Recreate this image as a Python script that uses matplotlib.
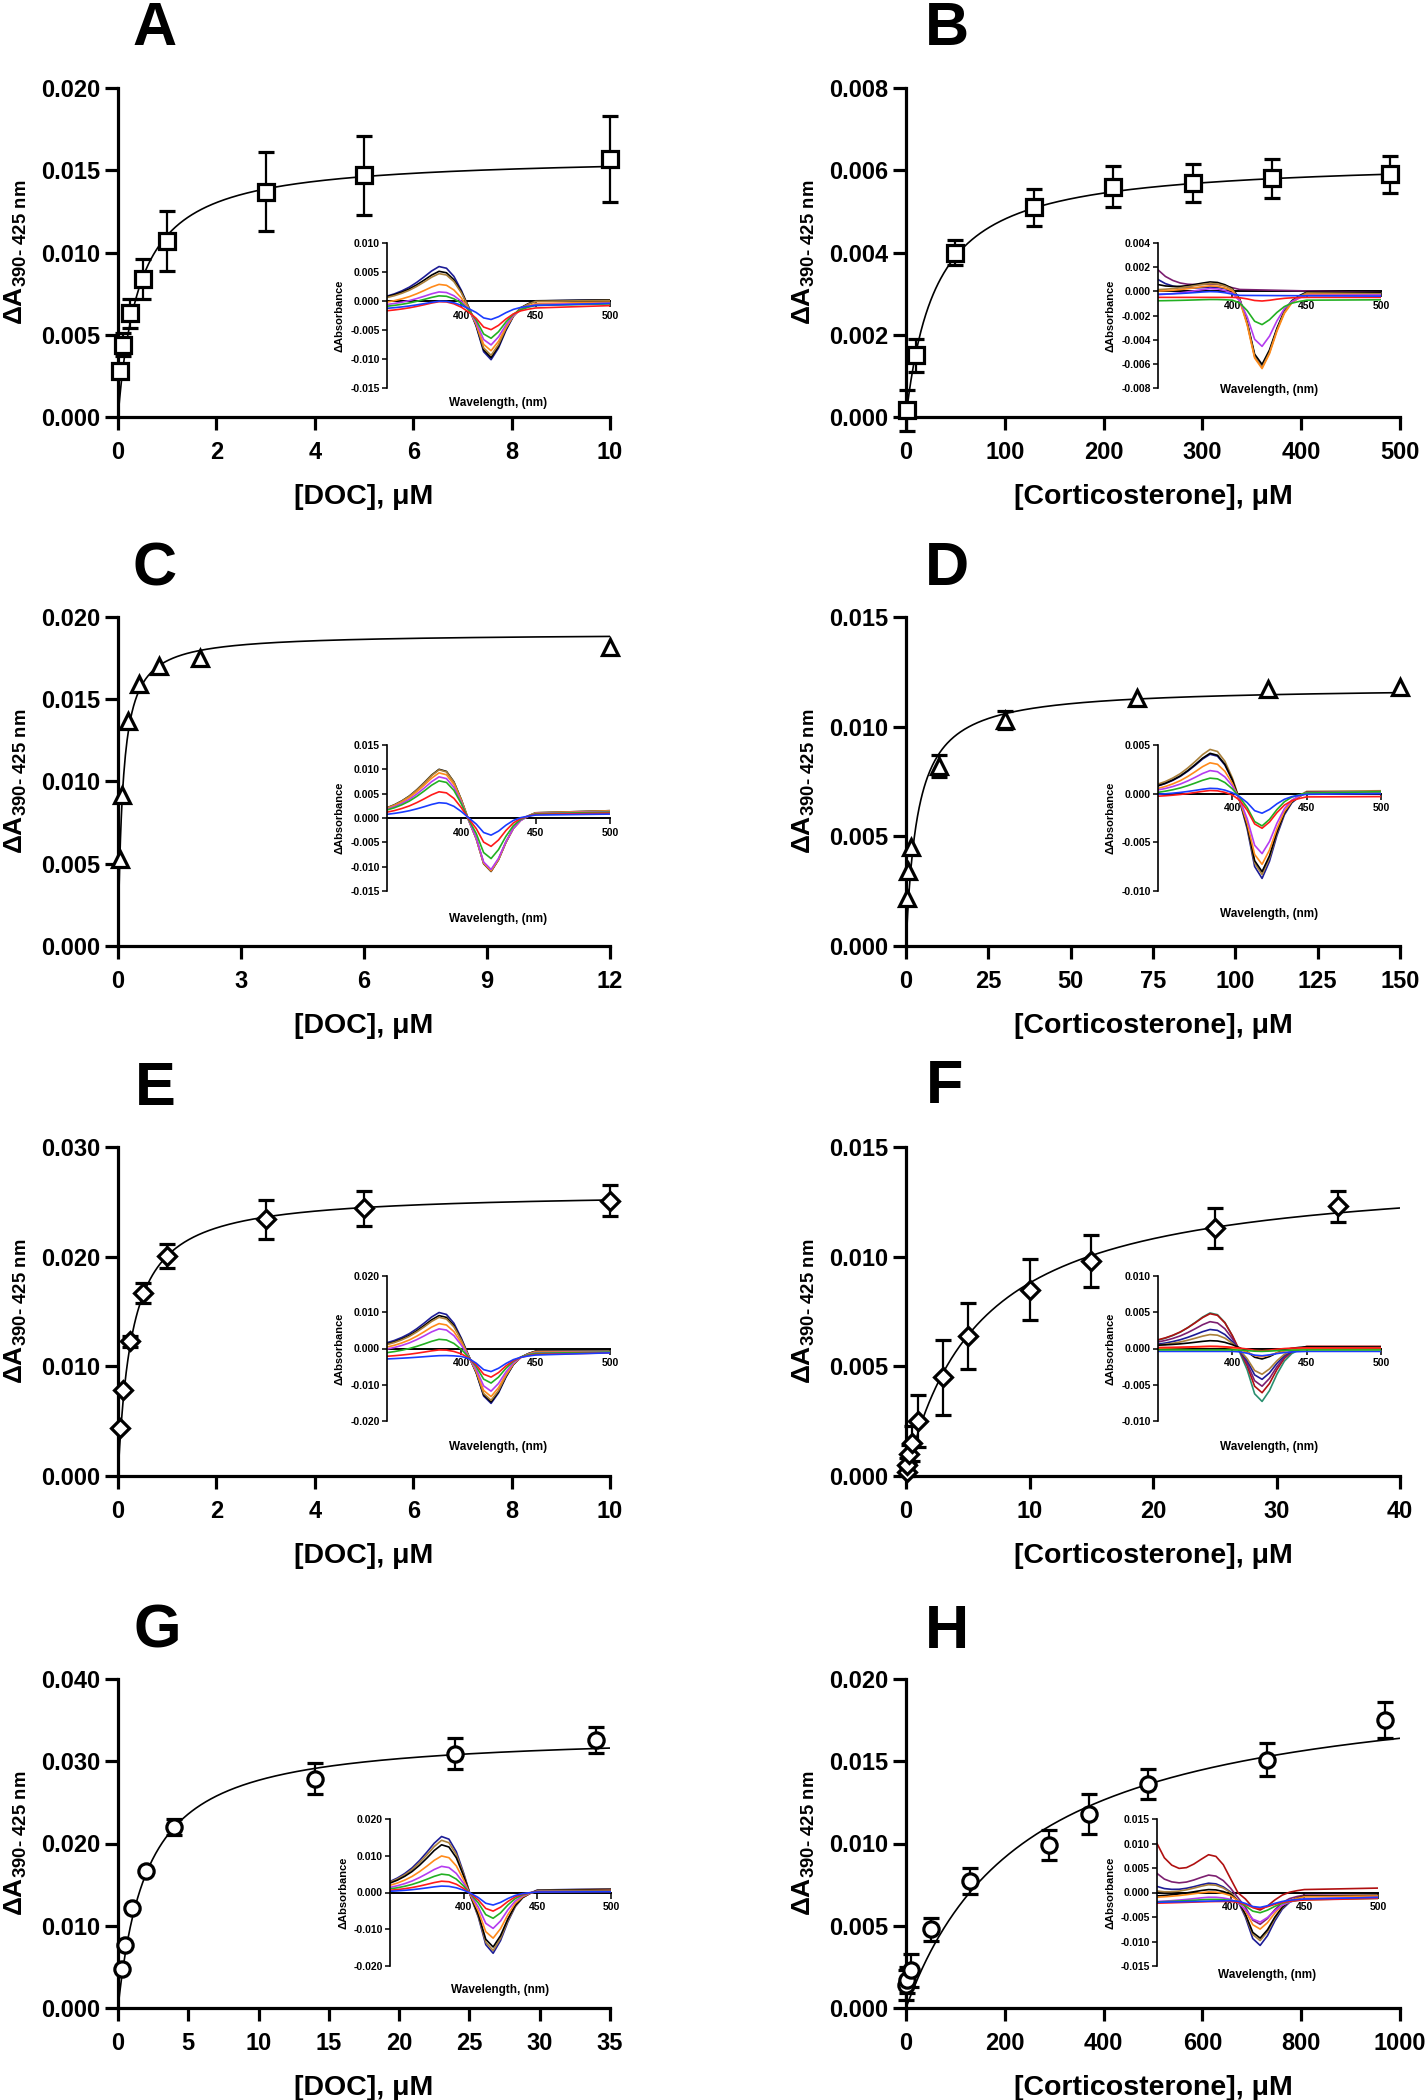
import numpy as np
import matplotlib
matplotlib.use('Agg')
import matplotlib.pyplot as plt

plt.rcParams['font.family'] = ['Liberation Sans', 'DejaVu Sans']
plt.rcParams['font.weight'] = 'bold'
plt.rcParams['axes.unicode_minus'] = False
plt.rcParams['mathtext.fontset'] = 'custom'
plt.rcParams['mathtext.rm'] = 'Liberation Sans'
plt.rcParams['mathtext.bf'] = 'Liberation Sans:bold'
plt.rcParams['mathtext.it'] = 'Liberation Sans:italic'

# ---------------- titration data ----------------
A_x = [0.05, 0.1, 0.25, 0.5, 1, 3, 5, 10]
A_y = [0.0028, 0.0044, 0.0063, 0.0084, 0.0107, 0.0137, 0.0147, 0.0157]
A_err = [0.0003, 0.0007, 0.0009, 0.0012, 0.0018, 0.0024, 0.0024, 0.0026]
A_fit = [0.0159, 0.44]          # Bmax, Kd

B_x = [1, 10, 50, 130, 210, 290, 370, 490]
B_y = [0.00016, 0.0015, 0.0040, 0.0051, 0.0056, 0.0057, 0.0058, 0.0059]
B_err = [0.0005, 0.0004, 0.0003, 0.00045, 0.0005, 0.00046, 0.00047, 0.00045]
B_fit = [0.00627, 30.3]

C_x = [0.05, 0.1, 0.25, 0.5, 1, 2, 12]
C_y = [0.0053, 0.0092, 0.0137, 0.0159, 0.0170, 0.0175, 0.0182]
C_err = None
C_fit = [0.0190, 0.115]

D_x = [0.25, 0.75, 1.5, 10, 30, 70, 110, 150]
D_y = [0.0022, 0.0034, 0.0045, 0.0082, 0.0103, 0.0113, 0.0117, 0.0118]
D_err = [np.nan, np.nan, np.nan, 0.0005, 0.0004, np.nan, np.nan, np.nan]
D_fit = [0.01182, 3.49]

E_x = [0.05, 0.1, 0.25, 0.5, 1, 3, 5, 10]
E_y = [0.0044, 0.0078, 0.0123, 0.0167, 0.0201, 0.0234, 0.0244, 0.0251]
E_err = [np.nan, np.nan, 0.0005, 0.0009, 0.0011, 0.0018, 0.0016, 0.0014]
E_fit = [0.0259, 0.29]

F_x = [0.05, 0.1, 0.25, 0.5, 1, 3, 5, 10, 15, 25, 35]
F_y = [0.0002, 0.0005, 0.0010, 0.0015, 0.0025, 0.0045, 0.0064, 0.0085, 0.0098, 0.0113, 0.0123]
F_err = [0.0002, 0.0003, 0.0004, 0.0008, 0.0012, 0.0017, 0.0015, 0.0014, 0.0012, 0.0009, 0.0007]
F_fit = [0.01404, 5.96]

G_x = [0.25, 0.5, 1, 2, 4, 14, 24, 34]
G_y = [0.0047, 0.0077, 0.0121, 0.0166, 0.0220, 0.0279, 0.0309, 0.0326]
G_err = [np.nan, np.nan, np.nan, np.nan, 0.0010, 0.0019, 0.0019, 0.0016]
G_fit = [0.0335, 2.1]

H_x = [1, 3, 10, 50, 130, 290, 370, 490, 730, 970]
H_y = [0.0014, 0.0017, 0.0023, 0.0048, 0.0077, 0.0099, 0.0118, 0.0136, 0.0151, 0.0175]
H_err = [0.0009, 0.0008, 0.0010, 0.0007, 0.0008, 0.0009, 0.0012, 0.0009, 0.0010, 0.0011]
H_fit = [0.02044, 246.6]

DOC_LABEL = '[DOC], μM'
CORT_LABEL = '[Corticosterone], μM'
Y_LABEL = r'$\Delta\mathbf{A}_{\mathbf{390}\text{-}\ \mathbf{425\ nm}}$'

# ---------------- difference spectra (insets) ----------------
wl = np.arange(350, 505, 5)
pos_shape = [0.20, 0.26, 0.34, 0.44, 0.57, 0.72, 0.88, 1.00, 0.95, 0.72, 0.33, 0.0,
             0, 0, 0, 0, 0, 0, 0, 0, 0, 0, 0, 0, 0, 0, 0, 0, 0, 0, 0]
neg_shape = [0, 0, 0, 0, 0, 0, 0, 0, 0, 0, 0,
             0.10, 0.42, 0.86, 1.00, 0.80, 0.50, 0.26, 0.12, 0.05,
             0, 0, 0, 0, 0, 0, 0, 0, 0, 0, 0]
edge_shape = [1.0, 0.6, 0.35, 0.18, 0.08, 0.03,
              0, 0, 0, 0, 0, 0, 0, 0, 0, 0, 0, 0, 0, 0, 0, 0, 0, 0, 0, 0, 0, 0, 0, 0, 0]

NAVY, BLACK, BROWN = '#1c1c96', '#000000', '#a9803a'
ORANGE, VIOLET, GREEN = '#ff8a1a', '#b43cf0', '#22b022'
RED, BLUE = '#ff1a1a', '#1a3cff'
DARKRED, PURPLE, TEAL = '#b01010', '#7c1f70', '#2a9070'

insA_colors = [NAVY, BLACK, BROWN, ORANGE, VIOLET, GREEN, RED, BLUE]
insA_peak = [0.0062, 0.0053, 0.0050, 0.0036, 0.0025, 0.0020, 0.0016, 0.0012]
insA_trough = [0.0100, 0.0097, 0.0092, 0.0080, 0.0068, 0.0055, 0.0035, 0.0022]
insA_base0 = [-0.0004, -0.0003, -0.0004, -0.0009, -0.0011, -0.0013, -0.0020, -0.0015]
insA_base1 = [0.0002, 0.0002, 0.0001, -0.0002, -0.0004, -0.0005, -0.0008, -0.0004]
insA_edge = [0, 0, 0, 0, 0, 0, 0, 0]

insB_colors = [PURPLE, NAVY, BLACK, BROWN, ORANGE, VIOLET, GREEN, RED, BLUE]
insB_peak = [0.0004, 0.0004, 0.0008, 0.0007, 0.0006, 0.0006, 0.0001, 0.0000, 0.0003]
insB_trough = [0.0000, 0.0061, 0.0060, 0.0062, 0.0062, 0.0042, 0.0020, 0.0003, 0.0000]
insB_base0 = [0.0003, 0.0000, 0.0000, 0.0000, -0.0001, -0.0004, -0.0008, -0.0005, -0.0003]
insB_base1 = [-0.0001, -0.0002, -0.0001, -0.0002, -0.0003, -0.0003, -0.0007, -0.0005, -0.0004]
insB_edge = [0.0014, 0.0009, 0.0004, 0, 0, 0, 0, 0, 0]

insC_colors = [BLACK, BROWN, ORANGE, VIOLET, GREEN, RED, BLUE]
insC_peak = [0.0095, 0.0094, 0.0088, 0.0080, 0.0072, 0.0050, 0.0028]
insC_trough = [0.0118, 0.0117, 0.0116, 0.0113, 0.0090, 0.0064, 0.0040]
insC_base0 = [0.0002, 0.0002, 0.0002, 0.0002, 0.0002, 0.0002, 0.0002]
insC_base1 = [0.0015, 0.0015, 0.0014, 0.0013, 0.0012, 0.0010, 0.0008]
insC_edge = [0, 0, 0, 0, 0, 0, 0]

insD_colors = [NAVY, BROWN, BLACK, ORANGE, VIOLET, GREEN, RED, BLUE]
insD_peak = [0.0040, 0.0044, 0.0041, 0.0032, 0.0024, 0.0017, 0.0007, 0.0007]
insD_trough = [0.0088, 0.0085, 0.0081, 0.0073, 0.0062, 0.0033, 0.0032, 0.0019]
insD_base0 = [0.0000, 0.0001, 0.0000, -0.0001, -0.0001, -0.0002, -0.0004, -0.0002]
insD_base1 = [0.0002, 0.0003, 0.0002, 0.0002, 0.0002, 0.0002, -0.0003, 0.0000]
insD_edge = [0, 0, 0, 0, 0, 0, 0, 0]

insE_colors = [NAVY, BLACK, BROWN, ORANGE, VIOLET, GREEN, RED, BLUE]
insE_peak = [0.0105, 0.0098, 0.0094, 0.0080, 0.0068, 0.0043, 0.0018, 0.0006]
insE_trough = [0.0145, 0.0140, 0.0135, 0.0122, 0.0105, 0.0080, 0.0060, 0.0042]
insE_base0 = [-0.0005, -0.0007, -0.0008, -0.0012, -0.0015, -0.0020, -0.0025, -0.0030]
insE_base1 = [-0.0008, -0.0008, -0.0008, -0.0009, -0.0010, -0.0010, -0.0012, -0.0012]
insE_edge = [0, 0, 0, 0, 0, 0, 0, 0]

insF_colors = [TEAL, DARKRED, PURPLE, NAVY, BROWN, BLACK, ORANGE, RED, BLUE, GREEN]
insF_peak = [0.0047, 0.0045, 0.0035, 0.0025, 0.0018, 0.0008, 0.0003, 0.0002, 0.0000, 0.0000]
insF_trough = [0.0075, 0.0064, 0.0054, 0.0044, 0.0037, 0.0017, 0.0011, 0.0004, 0.0006, 0.0002]
insF_base0 = [0.0002, 0.0003, 0.0002, 0.0001, 0.0001, 0.0003, 0.0000, 0.0001, -0.0004, -0.0002]
insF_base1 = [0.0002, 0.0003, 0.0002, 0.0002, 0.0002, 0.0002, -0.0001, 0.0001, -0.0004, -0.0002]
insF_edge = [0, 0, 0, 0, 0, 0, 0, 0, 0, 0]

insG_colors = [NAVY, BROWN, BLACK, ORANGE, VIOLET, GREEN, RED, BLUE]
insG_peak = [0.0150, 0.0140, 0.0128, 0.0098, 0.0070, 0.0049, 0.0030, 0.0017]
insG_trough = [0.0170, 0.0162, 0.0152, 0.0127, 0.0100, 0.0072, 0.0052, 0.0035]
insG_base0 = [0, 0, 0, 0, 0, 0, 0, 0]
insG_base1 = [0.0010, 0.0009, 0.0008, 0.0006, 0.0005, 0.0004, 0.0003, 0.0002]
insG_edge = [0, 0, 0, 0, 0, 0, 0, 0]

insH_colors = [DARKRED, PURPLE, NAVY, BROWN, BLACK, ORANGE, VIOLET, GREEN, RED, BLUE]
insH_peak = [0.0075, 0.0040, 0.0027, 0.0025, 0.0015, 0.0012, 0.0008, 0.0004, 0.0001, 0.0000]
insH_trough = [0.0040, 0.0060, 0.0100, 0.0090, 0.0085, 0.0065, 0.0045, 0.0025, 0.0015, 0.0015]
insH_base0 = [0.0000, -0.0004, -0.0008, -0.0010, -0.0010, -0.0012, -0.0020, -0.0020, -0.0022, -0.0020]
insH_base1 = [0.0009, -0.0006, -0.0008, -0.0006, -0.0006, -0.0007, -0.0010, -0.0012, -0.0012, -0.0010]
insH_edge = [0.0085, 0.0035, 0.0015, 0.0008, 0, 0, 0, 0, 0, 0]

# ---------------- layout (pixels in a 1426 x 2100 canvas) ----------------
W, H = 1426, 2100
fig = plt.figure(figsize=(W / 100, H / 100), dpi=100)


def px_axes(l, t, r, b):
    return fig.add_axes([l / W, 1 - b / H, (r - l) / W, (b - t) / H])


panels = [
    # letter, x, y, err, fit, marker, ms, xmax, xstep, ymax, ystep, xlabel, box, letter pos
    ('A', A_x, A_y, A_err, A_fit, 's', 11, 10, 2, 0.020, 0.005, DOC_LABEL, (118, 88, 610, 417), (155, 45)),
    ('B', B_x, B_y, B_err, B_fit, 's', 11, 500, 100, 0.008, 0.002, CORT_LABEL, (906, 88, 1400, 417), (947, 45)),
    ('C', C_x, C_y, C_err, C_fit, '^', 12, 12, 3, 0.020, 0.005, DOC_LABEL, (118, 617, 610, 946), (155, 585)),
    ('D', D_x, D_y, D_err, D_fit, '^', 12, 150, 25, 0.015, 0.005, CORT_LABEL, (906, 617, 1400, 946), (947, 585)),
    ('E', E_x, E_y, E_err, E_fit, 'D', 9, 10, 2, 0.030, 0.010, DOC_LABEL, (118, 1147, 610, 1476), (155, 1105)),
    ('F', F_x, F_y, F_err, F_fit, 'D', 9, 40, 10, 0.015, 0.005, CORT_LABEL, (906, 1147, 1400, 1476), (945, 1103)),
    ('G', G_x, G_y, G_err, G_fit, 'o', 11, 35, 5, 0.040, 0.010, DOC_LABEL, (118, 1679, 610, 2008), (157, 1648)),
    ('H', H_x, H_y, H_err, H_fit, 'o', 11, 1000, 200, 0.020, 0.005, CORT_LABEL, (906, 1679, 1400, 2008), (947, 1648)),
]

for (letter, x, y, err, fit, marker, ms, xmax, xstep, ymax, ystep,
     xlabel, box, lpos) in panels:
    ax = px_axes(*box)
    xs = np.linspace(0, xmax, 600)
    ax.plot(xs, fit[0] * xs / (fit[1] + xs), color='k', lw=1.2, zorder=2)
    cont = ax.errorbar(x, y, yerr=err, fmt=marker, ms=ms, mfc='white', mec='k', mew=2.3,
                       ecolor='k', elinewidth=1.6, capsize=6, capthick=1.6, zorder=3)
    for art in cont.get_children():
        art.set_clip_on(False)
    ax.set_xlim(0, xmax)
    ax.set_ylim(0, ymax)
    ax.set_xticks(np.arange(0, xmax + xstep / 2, xstep))
    ax.set_yticks(np.arange(0, ymax + ystep / 2, ystep))
    ax.yaxis.set_major_formatter(plt.FormatStrFormatter('%.3f'))
    ax.xaxis.set_major_formatter(plt.FormatStrFormatter('%d'))
    for s in ('top', 'right'):
        ax.spines[s].set_visible(False)
    for s in ('left', 'bottom'):
        ax.spines[s].set_linewidth(2.3)
    ax.tick_params(axis='both', direction='out', length=9.5, width=2.3, labelsize=17)
    ax.tick_params(axis='x', pad=8)
    ax.tick_params(axis='y', pad=3)
    ax.set_facecolor('none')
    ax.set_xlabel(xlabel, fontsize=20.5, fontweight='bold')
    ax.xaxis.set_label_coords(0.5, -0.205)
    ax.set_ylabel(Y_LABEL, fontsize=19)
    ax.yaxis.set_label_coords(-0.181, 0.5)
    fig.text(lpos[0] / W, 1 - lpos[1] / H, letter, fontsize=44, fontweight='bold',
             ha='center', va='baseline')

insets = [
    (insA_colors, insA_peak, insA_trough, insA_base0, insA_base1, insA_edge,
     (-0.015, 0.010), 0.005, (387, 243, 610, 388), 9),
    (insB_colors, insB_peak, insB_trough, insB_base0, insB_base1, insB_edge,
     (-0.008, 0.004), 0.002, (1158, 243, 1381, 388), -4),
    (insC_colors, insC_peak, insC_trough, insC_base0, insC_base1, insC_edge,
     (-0.015, 0.015), 0.005, (387, 745, 610, 891), 22),
    (insD_colors, insD_peak, insD_trough, insD_base0, insD_base1, insD_edge,
     (-0.010, 0.005), 0.005, (1158, 745, 1381, 891), 17),
    (insE_colors, insE_peak, insE_trough, insE_base0, insE_base1, insE_edge,
     (-0.020, 0.020), 0.010, (387, 1276, 610, 1421), 20),
    (insF_colors, insF_peak, insF_trough, insF_base0, insF_base1, insF_edge,
     (-0.010, 0.010), 0.005, (1158, 1276, 1381, 1421), 20),
    (insG_colors, insG_peak, insG_trough, insG_base0, insG_base1, insG_edge,
     (-0.020, 0.020), 0.010, (390, 1819, 611, 1966), 18),
    (insH_colors, insH_peak, insH_trough, insH_base0, insH_base1, insH_edge,
     (-0.015, 0.015), 0.005, (1157, 1819, 1378, 1966), 3),
]

pos_arr = np.array(pos_shape)
neg_arr = np.array(neg_shape)
edge_arr = np.array(edge_shape)

for colors, peak, trough, b0, b1, edge, ylim, ystep, box, lab_off in insets:
    ia = px_axes(*box)
    ia.set_facecolor('none')
    for c, p, t, l, r, e in zip(colors, peak, trough, b0, b1, edge):
        base = l + (r - l) * (wl - 350) / 150.0
        ia.plot(wl, base + p * pos_arr - t * neg_arr + e * edge_arr, color=c, lw=1.2, zorder=2)
    ia.set_xlim(350, 500)
    ia.set_ylim(*ylim)
    ia.set_yticks(np.arange(ylim[0], ylim[1] + ystep / 2, ystep))
    ia.set_xticks([400, 450, 500])
    ia.yaxis.set_major_formatter(plt.FormatStrFormatter('%.3f'))
    ia.spines['top'].set_visible(False)
    ia.spines['right'].set_visible(False)
    ia.spines['bottom'].set_position(('data', 0))
    ia.spines['bottom'].set_linewidth(1.4)
    ia.spines['bottom'].set_zorder(1)
    ia.spines['left'].set_linewidth(1.2)
    ia.tick_params(axis='both', direction='out', labelsize=7.5, width=1.1)
    ia.tick_params(axis='y', length=3.5, pad=1.5)
    ia.tick_params(axis='x', length=4, pad=3)
    ia.set_ylabel('ΔAbsorbance', fontsize=8, fontweight='bold')
    ia.yaxis.set_label_coords(-0.19, 0.5)
    h = box[3] - box[1]
    ia.text(0.5, -lab_off / h, 'Wavelength, (nm)', transform=ia.transAxes,
            ha='center', va='top', fontsize=8.5, fontweight='bold')

fig.savefig('out.png', dpi=100)
